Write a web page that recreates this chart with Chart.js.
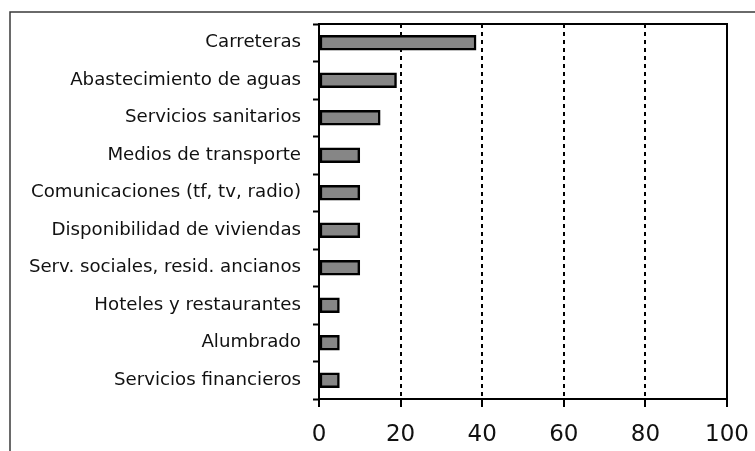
<!DOCTYPE html>
<html>
<head>
<meta charset="utf-8">
<script src="https://cdn.jsdelivr.net/npm/chart.js@4"></script>
<style>
  html, body { margin: 0; padding: 0; background: #fff; }
  #wrap { width: 755px; height: 451px; }
</style>
</head>
<body>
<div id="wrap"><canvas id="chart" width="755" height="451"></canvas></div>
<script>
const categories = [
  "Carreteras",
  "Abastecimiento de aguas",
  "Servicios sanitarios",
  "Medios de transporte",
  "Comunicaciones (tf, tv, radio)",
  "Disponibilidad de viviendas",
  "Serv. sociales, resid. ancianos",
  "Hoteles y restaurantes",
  "Alumbrado",
  "Servicios financieros",
];
const values = [38.5, 19, 15, 10, 10, 10, 10, 5, 5, 5];
const xTicks = [0, 20, 40, 60, 80, 100];

// partial outer frame + solid box around the plot
const frame = {
  id: "frame",
  beforeDraw(chart) {
    const c = chart.ctx;
    c.save();
    c.strokeStyle = "#3a3a3a";
    c.lineWidth = 1.5;
    c.beginPath();
    c.moveTo(10, 451);
    c.lineTo(10, 12);
    c.lineTo(755, 12);
    c.stroke();
    c.restore();
  },
  afterDatasetsDraw(chart) {
    const a = chart.chartArea, c = chart.ctx;
    c.save();
    c.strokeStyle = "#000";
    c.lineWidth = 2;
    c.beginPath();
    c.moveTo(a.left, a.top);
    c.lineTo(a.right, a.top);
    c.lineTo(a.right, a.bottom);
    c.stroke();
    c.restore();
  },
};

new Chart(document.getElementById("chart"), {
  type: "bar",
  data: {
    labels: categories,
    datasets: [{
      data: values,
      backgroundColor: "#868686",
      borderColor: "#000",
      borderWidth: 2.5,
      borderSkipped: false,
      barThickness: 15,
    }],
  },
  plugins: [frame],
  options: {
    indexAxis: "y",
    responsive: false,
    animation: false,
    layout: { padding: { top: 24, right: 28, left: 0, bottom: 0 } },
    plugins: { legend: { display: false }, tooltip: { enabled: false } },
    scales: {
      x: {
        min: 0,
        max: 100,
        afterBuildTicks: s => { s.ticks = xTicks.map(v => ({ value: v })); },
        afterFit: s => { s.height = 52; s.paddingLeft = 0; s.paddingRight = 0; },
        grid: {
          color: ctx => (ctx.tick && (ctx.tick.value === 0 || ctx.tick.value === 100)) ? "rgba(0,0,0,0)" : "#000",
          lineWidth: 2,
          tickLength: 8,
          tickColor: "#000",
          tickWidth: 2,
          tickBorderDash: [],
        },
        border: { display: true, color: "#000", width: 2, dash: [4, 4] },
        ticks: {
          color: "#111",
          padding: 14,
          font: { family: "DejaVu Sans", size: 23 },
        },
      },
      y: {
        afterFit: s => { s.width = 319; s.paddingTop = 0; s.paddingBottom = 0; },
        grid: {
          offset: true,
          drawOnChartArea: false,
          tickLength: 6,
          tickColor: "#000",
          tickWidth: 2,
        },
        border: { display: true, color: "#000", width: 2 },
        ticks: {
          color: "#111",
          padding: 12,
          font: { family: "DejaVu Sans", size: 18.2 },
        },
      },
    },
  },
});
</script>
</body>
</html>
